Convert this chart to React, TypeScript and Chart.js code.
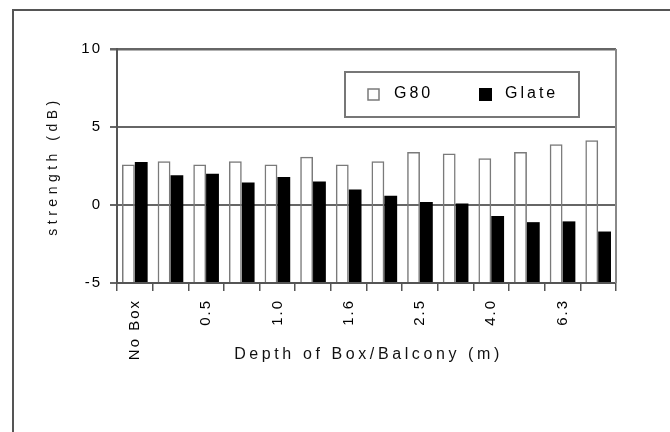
import React, { useEffect, useRef } from 'react';
import { Chart, registerables } from 'chart.js';

Chart.register(...registerables);

// ---- data ----
const depthLabels = ['No Box', '', '0.5', '', '1.0', '', '1.6', '', '2.5', '', '4.0', '', '6.3', ''];
const g80Values = [2.6, 2.8, 2.6, 2.8, 2.6, 3.1, 2.6, 2.8, 3.4, 3.3, 3.0, 3.4, 3.9, 4.15];
const glateValues = [2.75, 1.9, 2.0, 1.45, 1.8, 1.5, 1.0, 0.6, 0.2, 0.1, -0.7, -1.1, -1.05, -1.7];
const seriesNames = ['G80', 'Glate'];
const yTickValues = [-5, 0, 5, 10];
const xTitleText = 'Depth of Box/Balcony (m)';
const yTitleText = 'strength (dB)';

const FONT = "'Liberation Sans', Arial, sans-serif";

const decorPlugin = {
  id: 'decor',
  beforeDraw(chart: any) {
    const ctx = chart.ctx;
    ctx.save();
    ctx.fillStyle = '#ffffff';
    ctx.fillRect(0, 0, chart.width, chart.height);
    ctx.restore();
    ctx.letterSpacing = '2px';
  },
  afterDraw(chart: any) {
    const ctx = chart.ctx;
    const area = chart.chartArea;
    ctx.save();
    // outer frame
    ctx.strokeStyle = '#555';
    ctx.lineWidth = 2;
    ctx.beginPath();
    ctx.moveTo(13, chart.height + 2);
    ctx.lineTo(13, 10);
    ctx.lineTo(chart.width + 2, 10);
    ctx.stroke();

    // right border of plot
    ctx.strokeStyle = '#888';
    ctx.lineWidth = 2;
    ctx.beginPath();
    ctx.moveTo(area.right, area.top);
    ctx.lineTo(area.right, area.bottom);
    ctx.stroke();

    // y title
    ctx.fillStyle = '#111';
    ctx.font = `14px ${FONT}`;
    ctx.letterSpacing = '4.5px';
    ctx.textAlign = 'center';
    ctx.textBaseline = 'middle';
    ctx.save();
    ctx.translate(53, (area.top + area.bottom) / 2);
    ctx.rotate(-Math.PI / 2);
    ctx.fillText(yTitleText, 0, 0);
    ctx.restore();

    // x title
    ctx.font = `16px ${FONT}`;
    ctx.letterSpacing = '3.6px';
    ctx.fillText(xTitleText, (area.left + area.right) / 2 + 2, 355);

    // legend
    const lx = 345, ly = 72, lw = 234, lh = 45;
    ctx.fillStyle = '#fff';
    ctx.fillRect(lx, ly, lw, lh);
    ctx.strokeStyle = '#777';
    ctx.lineWidth = 2;
    ctx.strokeRect(lx, ly, lw, lh);

    const ds = chart.data.datasets;
    // G80 key
    ctx.fillStyle = '#fff';
    ctx.fillRect(368, 89, 11, 11);
    ctx.strokeStyle = ds[0].borderColor;
    ctx.lineWidth = 1.5;
    ctx.strokeRect(368, 89, 11, 11);
    // Glate key
    ctx.fillStyle = ds[1].backgroundColor;
    ctx.fillRect(479, 88, 13, 13);

    ctx.fillStyle = '#000';
    ctx.font = `16px ${FONT}`;
    ctx.letterSpacing = '3px';
    ctx.textAlign = 'left';
    ctx.textBaseline = 'middle';
    ctx.fillText(ds[0].label, 394, 94);
    ctx.fillText(ds[1].label, 505, 94);
    ctx.restore();
  },
};

export default function App() {
  const canvasRef = useRef<HTMLCanvasElement | null>(null);

  useEffect(() => {
    document.body.style.margin = '0';
    const canvas = canvasRef.current;
    if (!canvas) return;
    const chart = new Chart(canvas, {
      type: 'bar',
      data: {
        labels: depthLabels,
        datasets: [
          {
            label: seriesNames[0],
            data: g80Values,
            base: -5,
            backgroundColor: 'rgba(255,255,255,0)',
            borderColor: '#7a7a7a',
            borderWidth: 1.5,
            borderSkipped: 'start',
            categoryPercentage: 0.72,
            barPercentage: 1.0,
          } as any,
          {
            label: seriesNames[1],
            data: glateValues,
            base: -5,
            backgroundColor: '#000000',
            borderWidth: 0,
            categoryPercentage: 0.72,
            barPercentage: 1.0,
          } as any,
        ],
      },
      options: {
        responsive: false,
        animation: false,
        devicePixelRatio: 1,
        layout: { padding: { top: 49, right: 54, left: 0, bottom: 0 } },
        plugins: {
          legend: { display: false },
          tooltip: { enabled: false },
          title: { display: false },
        },
        scales: {
          x: {
            offset: true,
            afterFit: (s: any) => {
              s.height = 149;
            },
            grid: {
              offset: true,
              drawOnChartArea: false,
              drawTicks: true,
              tickLength: 8,
              color: '#555',
              lineWidth: 1.5,
            },
            border: { color: '#555', width: 2 },
            ticks: {
              autoSkip: false,
              maxRotation: 90,
              minRotation: 90,
              padding: 8,
              color: '#000',
              font: { family: FONT, size: 15 },
            },
          },
          y: {
            min: -5,
            max: 10,
            afterFit: (s: any) => {
              s.width = 117;
            },
            afterBuildTicks: (s: any) => {
              s.ticks = yTickValues.map((v) => ({ value: v }));
            },
            grid: {
              color: '#666',
              lineWidth: (c: any) => (c.tick && c.tick.value === 10 ? 2.5 : 2),
              tickLength: 7,
            },
            border: { color: '#555', width: 2 },
            ticks: {
              padding: 8,
              color: '#000',
              font: { family: FONT, size: 15 },
            },
          },
        },
      },
      plugins: [decorPlugin],
    });
    return () => chart.destroy();
  }, []);

  return (
    <div style={{ width: 670, height: 432 }}>
      <canvas ref={canvasRef} width={670} height={432} style={{ display: 'block' }} />
    </div>
  );
}
